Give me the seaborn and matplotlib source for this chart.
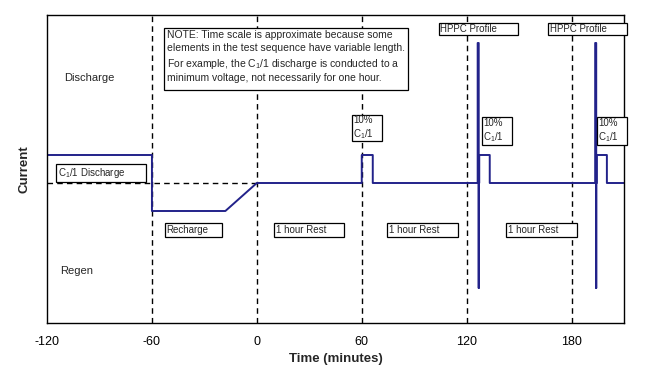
import matplotlib
matplotlib.use('Agg')
import matplotlib.pyplot as plt
from matplotlib.patches import Rectangle
import seaborn as sns

# test sequence current profile (arbitrary units, 1 = C1/1)
time_min = [-120, -120, -60, -60, -18, 0, 60, 60, 66.3, 66.3,
            126.3, 126.3, 126.9, 126.9, 126.9, 127.2, 127.2, 133.2, 133.2,
            193.5, 193.5, 194.1, 194.1, 194.1, 194.4, 194.4, 200.2, 200.2, 210]
current = [0, 1, 1, -1, -1, 0, 0, 1, 1, 0,
           0, 5, 5, -3.75, 0, 0, 1, 1, 0,
           0, 5, 5, -3.75, 0, 0, 1, 1, 0, 0]

xticks = [-120, -60, 0, 60, 120, 180]
divider_times = [-60, 0, 60, 120, 180]
rest_starts = [9.9, 74.6, 142.7]
pulse_boxes = [54.2, 128.6, 194.5]
hppc_boxes = [104.2, 166.6]

sns.set_style('white')
plt.rcParams['font.family'] = ['Liberation Sans', 'DejaVu Sans']
plt.rcParams['mathtext.fontset'] = 'custom'
plt.rcParams['mathtext.rm'] = 'Liberation Sans'
plt.rcParams['mathtext.it'] = 'Liberation Sans:italic'

fig = plt.figure(figsize=(6.55, 3.70), dpi=100)
ax = fig.add_axes([0.0718, 0.127, 0.8809, 0.8325])

navy = '#22228a'
dash = (0, (4, 3))

for t in divider_times:
    ax.axvline(t, color='black', lw=1, ls=dash, zorder=1)
ax.plot([-120, 0], [0, 0], color='black', lw=1, ls=dash, zorder=1)

sns.lineplot(x=time_min, y=current, sort=False, estimator=None,
             color=navy, lw=1.4, ax=ax, zorder=2)


def label_box(x0, y0, w, h, text, fs=7, pad=0.8):
    ax.add_patch(Rectangle((x0, y0), w, h, facecolor='white', edgecolor='black',
                           lw=0.9, zorder=3, clip_on=False))
    ax.text(x0 + pad, y0 + h / 2, text, fontsize=fs, ha='left', va='center',
            zorder=4, clip_on=False)


label_box(-114.8, 0.04, 51.5, 0.64, 'C$_1$/1 Discharge')
label_box(-52.4, -1.93, 32.6, 0.5, 'Recharge')
for x0 in rest_starts:
    label_box(x0, -1.93, 40.2, 0.5, '1 hour Rest')
for x0 in hppc_boxes:
    label_box(x0, 5.29, 45.1, 0.42, 'HPPC Profile')
label_box(pulse_boxes[0], 1.5, 17.2, 0.93, '10%\nC$_1$/1')
for x0 in pulse_boxes[1:]:
    label_box(x0, 1.36, 17.2, 1.0, '10%\nC$_1$/1')

# note box
ax.add_patch(Rectangle((-52.9, 3.32), 139.6, 2.2, facecolor='white',
                       edgecolor='black', lw=0.9, zorder=3))
note = ('NOTE: Time scale is approximate because some\n'
        'elements in the test sequence have variable length.\n'
        'For example, the C$_1$/1 discharge is conducted to a\n'
        'minimum voltage, not necessarily for one hour.')
ax.text(-51.2, 5.45, note, fontsize=7.5, ha='left', va='top',
        linespacing=1.35, zorder=4)

ax.text(-110.2, 3.75, 'Discharge', fontsize=8, ha='left', va='center')
ax.text(-112.6, -3.14, 'Regen', fontsize=8, ha='left', va='center')

ax.set_xlim(-120, 210)
ax.set_ylim(-5, 6)
ax.set_xticks(xticks)
ax.set_xticklabels([str(t) for t in xticks])
ax.set_yticks([])
ax.tick_params(axis='x', length=0, pad=9, labelsize=9, colors='black')
for s in ax.spines.values():
    s.set_color('black')
    s.set_linewidth(1)
ax.set_xlabel('Time (minutes)', fontsize=9.5, fontweight='bold', labelpad=4)
ax.set_ylabel('Current', fontsize=9.5, fontweight='bold', labelpad=12)

fig.savefig('out.png', dpi=100)
